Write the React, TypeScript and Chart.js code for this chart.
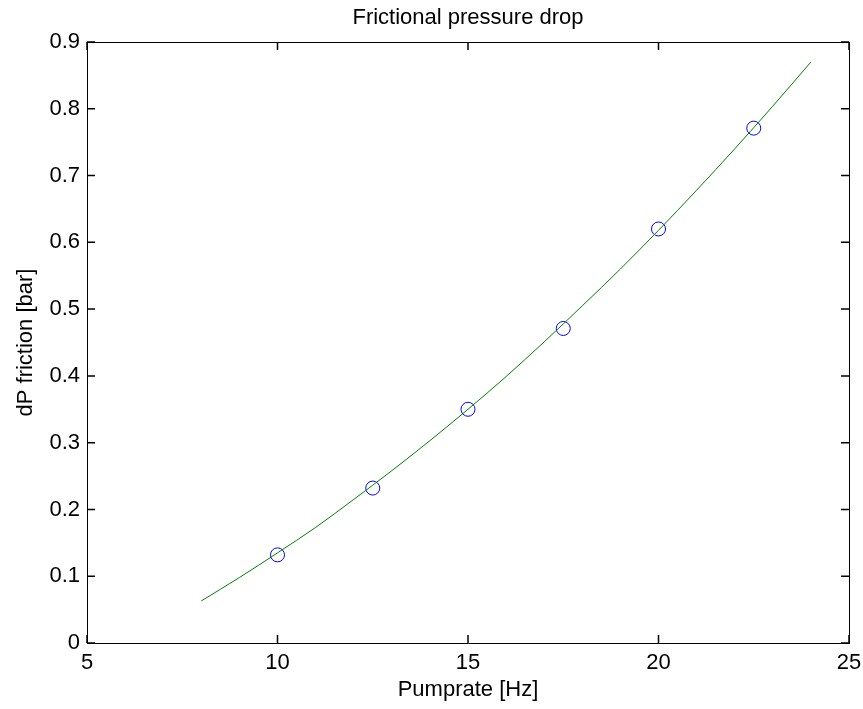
import React, { useEffect, useRef } from 'react';
import { Chart, registerables } from 'chart.js';

Chart.register(...registerables);

// Fitted curve
const fitX = [8, 9, 10, 11, 12, 13, 14, 15, 16, 17, 18, 19, 20, 21, 22, 23, 24];
const fitY = [0.063, 0.098, 0.135, 0.173, 0.215, 0.258, 0.303, 0.350, 0.399, 0.451, 0.505, 0.560, 0.618, 0.678, 0.740, 0.804, 0.870];

// Measured points
const measX = [10, 12.5, 15, 17.5, 20, 22.5];
const measY = [0.132, 0.232, 0.350, 0.471, 0.620, 0.771];

// Tick values
const xTicks = [5, 10, 15, 20, 25];
const yTicks = [0, 0.1, 0.2, 0.3, 0.4, 0.5, 0.6, 0.7, 0.8, 0.9];

const FONT = "'Liberation Sans', Arial, Helvetica, sans-serif";
const TICK_LEN = 8;

// Draws MATLAB-style inward tick marks on all four sides of the plot box
const inwardTicks = {
  id: 'inwardTicks',
  afterDraw(chart: any) {
    const { ctx, chartArea } = chart;
    const xs = chart.scales.x;
    const ys = chart.scales.y;
    ctx.save();
    ctx.strokeStyle = '#000000';
    ctx.lineWidth = 1.5;
    ctx.beginPath();
    xTicks.forEach((v) => {
      const px = xs.getPixelForValue(v);
      ctx.moveTo(px, chartArea.bottom);
      ctx.lineTo(px, chartArea.bottom - TICK_LEN);
      ctx.moveTo(px, chartArea.top);
      ctx.lineTo(px, chartArea.top + TICK_LEN);
    });
    yTicks.forEach((v) => {
      const py = ys.getPixelForValue(v);
      ctx.moveTo(chartArea.left, py);
      ctx.lineTo(chartArea.left + TICK_LEN, py);
      ctx.moveTo(chartArea.right, py);
      ctx.lineTo(chartArea.right - TICK_LEN, py);
    });
    ctx.stroke();
    ctx.restore();
  },
};

export default function App() {
  const ref = useRef<HTMLCanvasElement | null>(null);

  useEffect(() => {
    document.body.style.margin = '0';
    const canvas = ref.current;
    if (!canvas) return;

    const font = { family: FONT, size: 22 };
    const gridCommon = {
      drawOnChartArea: false,
      drawTicks: false,
      tickLength: 0,
      color: '#000000',
      lineWidth: 1,
    };
    const borderCommon = { color: '#000000', width: 1 };

    const setTicks = (vals: number[]) => (scale: any) => {
      scale.ticks = vals.map((v) => ({ value: v }));
    };

    const chart = new Chart(canvas, {
      type: 'scatter',
      data: {
        datasets: [
          {
            type: 'line',
            label: 'fit',
            data: fitX.map((x, i) => ({ x, y: fitY[i] })),
            borderColor: '#008000',
            backgroundColor: '#008000',
            borderWidth: 1,
            pointRadius: 0,
            cubicInterpolationMode: 'monotone',
            fill: false,
            order: 0,
          } as any,
          {
            type: 'scatter',
            label: 'data',
            data: measX.map((x, i) => ({ x, y: measY[i] })),
            borderColor: '#0000ff',
            backgroundColor: 'rgba(0,0,0,0)',
            borderWidth: 1,
            pointRadius: 7,
            pointStyle: 'circle',
            showLine: false,
            order: 1,
          } as any,
        ],
      },
      options: {
        responsive: false,
        animation: false,
        layout: { padding: { top: 0, right: 14, bottom: 0, left: 0 } },
        plugins: {
          legend: { display: false },
          tooltip: { enabled: false },
          title: {
            display: true,
            fullSize: false,
            text: 'Frictional pressure drop',
            color: '#000000',
            font: { family: FONT, size: 22, weight: 'normal' },
            padding: { top: 5, bottom: 10.6 },
          },
        },
        scales: {
          x: {
            type: 'linear',
            position: 'bottom',
            min: 5,
            max: 25,
            afterBuildTicks: setTicks(xTicks),
            grid: gridCommon,
            border: borderCommon,
            ticks: { color: '#000000', font, padding: 7, maxRotation: 0 },
            title: {
              display: true,
              text: 'Pumprate [Hz]',
              color: '#000000',
              font,
              padding: { top: 0, bottom: 6 },
            },
            afterFit: (s: any) => {
              s.height = 66;
              s.paddingLeft = 0;
              s.paddingRight = 0;
            },
          },
          x2: {
            type: 'linear',
            position: 'top',
            min: 5,
            max: 25,
            afterBuildTicks: setTicks(xTicks),
            grid: gridCommon,
            border: borderCommon,
            ticks: { display: false },
            afterFit: (s: any) => {
              s.height = 0;
              s.paddingLeft = 0;
              s.paddingRight = 0;
            },
          },
          y: {
            type: 'linear',
            position: 'left',
            min: 0,
            max: 0.9,
            afterBuildTicks: setTicks(yTicks),
            grid: gridCommon,
            border: borderCommon,
            ticks: {
              color: '#000000',
              font,
              padding: 7,
              callback: (v: any) => String(Math.round(Number(v) * 10) / 10),
            },
            title: {
              display: true,
              text: 'dP friction [bar]',
              color: '#000000',
              font,
              padding: { top: 13, bottom: 0 },
            },
            afterFit: (s: any) => {
              s.width = 87;
              s.paddingTop = 0;
              s.paddingBottom = 0;
            },
          },
          y2: {
            type: 'linear',
            position: 'right',
            min: 0,
            max: 0.9,
            afterBuildTicks: setTicks(yTicks),
            grid: gridCommon,
            border: borderCommon,
            ticks: { display: false },
            afterFit: (s: any) => {
              s.width = 0;
              s.paddingTop = 0;
              s.paddingBottom = 0;
            },
          },
        },
      } as any,
      plugins: [inwardTicks],
    });

    return () => chart.destroy();
  }, []);

  return (
    <div style={{ width: 863, height: 709, background: '#ffffff' }}>
      <canvas ref={ref} width={863} height={709} style={{ display: 'block' }} />
    </div>
  );
}
